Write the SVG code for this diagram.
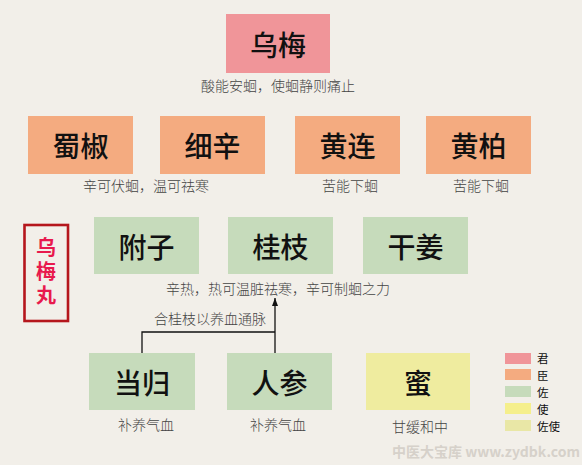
<svg xmlns="http://www.w3.org/2000/svg" width="582" height="465" viewBox="0 0 582 465">
<defs>
<marker id="arr" viewBox="0 0 8 6" refX="8" refY="3" markerWidth="8" markerHeight="6" markerUnits="userSpaceOnUse" orient="auto">
<path d="M0,0 L8,3 L0,6 Z" fill="#111"/>
</marker>
</defs>
<style>
.lbl{font-family:"Noto Sans CJK SC","Noto Sans CJK JP",sans-serif;font-size:28px;font-weight:500;fill:#111;text-anchor:middle;dominant-baseline:central}
.cap{font-family:"Noto Sans CJK SC","Noto Sans CJK JP",sans-serif;font-size:14px;font-weight:300;fill:#444;text-anchor:middle}
.jun{fill:#f09599}
.chen{fill:#f4ab80}
.zuo{fill:#c6dbbb}
.shi{fill:#efec9f}
.leg{font-family:"Noto Sans CJK SC","Noto Sans CJK JP",sans-serif;font-size:11.5px;fill:#111}
.line{fill:none;stroke:#111;stroke-width:1.3}
</style>
<rect width="582" height="465" fill="#f2efe9"/>

<g id="wumei">
<rect class="jun" x="226" y="14" width="104" height="59"/>
<text class="lbl" x="278" y="44">乌梅</text>
<text class="cap" x="278" y="91">酸能安蛔，使蛔静则痛止</text>
</g>

<g id="shujiao">
<rect class="chen" x="28" y="116" width="105" height="58"/>
<text class="lbl" x="80.5" y="145">蜀椒</text>
</g>
<g id="xixin">
<rect class="chen" x="160" y="116" width="105" height="58"/>
<text class="lbl" x="212.5" y="145">细辛</text>
</g>
<text class="cap" x="146" y="191">辛可伏蛔，温可祛寒</text>
<g id="huanglian">
<rect class="chen" x="295" y="116" width="105" height="58"/>
<text class="lbl" x="347.5" y="145">黄连</text>
<text class="cap" x="350" y="191">苦能下蛔</text>
</g>
<g id="huangbai">
<rect class="chen" x="426" y="116" width="105" height="58"/>
<text class="lbl" x="478.5" y="145">黄柏</text>
<text class="cap" x="481" y="191">苦能下蛔</text>
</g>

<g id="title">
<rect x="24.5" y="225" width="43.5" height="96" fill="none" stroke="#b5161c" stroke-width="2.6"/>
<text x="46" y="273" font-family="'Noto Sans CJK SC',sans-serif" font-size="20" font-weight="700" fill="#e8194d" text-anchor="middle" writing-mode="vertical-rl" letter-spacing="4">乌梅丸</text>
</g>

<g id="fuzi">
<rect class="zuo" x="94" y="217" width="105" height="57"/>
<text class="lbl" x="146.5" y="245.5">附子</text>
</g>
<g id="guizhi">
<rect class="zuo" x="228" y="217" width="105" height="57"/>
<text class="lbl" x="280.5" y="245.5">桂枝</text>
</g>
<g id="ganjiang">
<rect class="zuo" x="363" y="217" width="105" height="57"/>
<text class="lbl" x="415.5" y="245.5">干姜</text>
</g>
<text class="cap" x="278" y="294">辛热，热可温脏祛寒，辛可制蛔之力</text>

<g id="connectors">
<path class="line" d="M142,353 V332 H275"/>
<path class="line" d="M275,353 V298" marker-end="url(#arr)"/>
<text class="cap" x="210" y="324">合桂枝以养血通脉</text>
</g>

<g id="danggui">
<rect class="zuo" x="89" y="353" width="106" height="57"/>
<text class="lbl" x="142" y="381.5">当归</text>
<text class="cap" x="146" y="430">补养气血</text>
</g>
<g id="renshen">
<rect class="zuo" x="227" y="353" width="105" height="57"/>
<text class="lbl" x="279.5" y="381.5">人参</text>
<text class="cap" x="278" y="430">补养气血</text>
</g>
<g id="mi">
<rect class="shi" x="366" y="353" width="104" height="57"/>
<text class="lbl" x="418" y="381.5">蜜</text>
<text class="cap" x="420" y="432">甘缓和中</text>
</g>

<g id="legend">
<rect x="505" y="353" width="26" height="11" fill="#f09599"/>
<rect x="505" y="369" width="26" height="11" fill="#f4ab80"/>
<rect x="505" y="386" width="26" height="11" fill="#c6dbbb"/>
<rect x="505" y="403" width="26" height="11" fill="#f5ef8c"/>
<rect x="505" y="420" width="26" height="11" fill="#e9e7a6"/>
<text class="leg" x="537" y="363">君</text>
<text class="leg" x="537" y="380">臣</text>
<text class="leg" x="537" y="397">佐</text>
<text class="leg" x="537" y="414">使</text>
<text class="leg" x="537" y="431">佐使</text>
</g>

<text x="580" y="457" font-family="'Noto Sans CJK SC',sans-serif" font-size="14" font-weight="700" fill="#d6d1ca" text-anchor="end">中医大宝库 www.zydbk.com</text>
</svg>
